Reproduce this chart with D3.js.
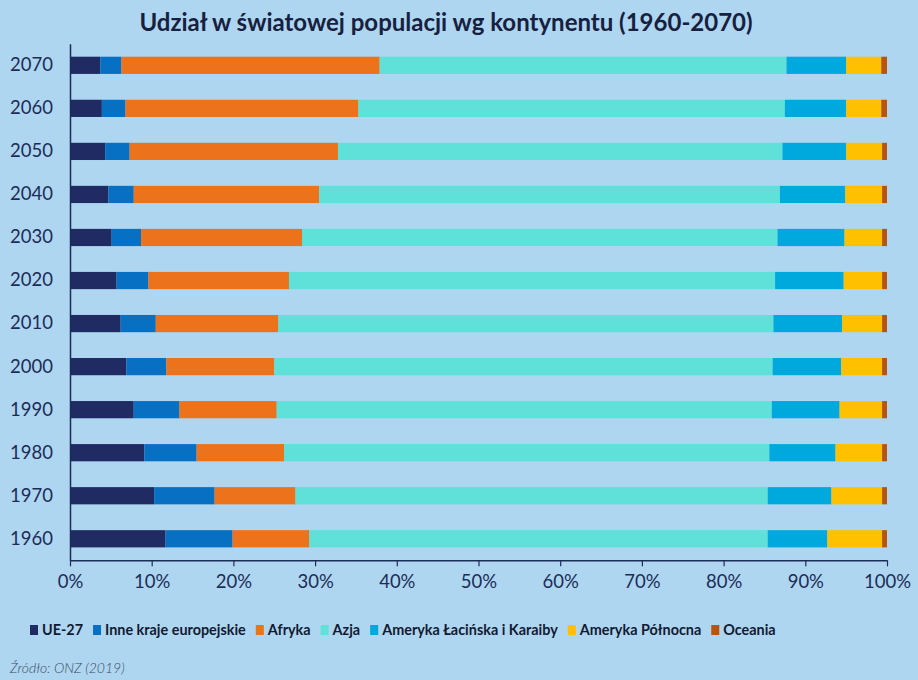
<!DOCTYPE html>
<html>
<head>
<meta charset="utf-8">
<script src="https://cdn.jsdelivr.net/npm/d3@7"></script>
<style>
  html, body { margin: 0; padding: 0; background: #aed6f0; }
  svg { display: block; }
</style>
</head>
<body>
<svg id="chart" width="918" height="680"></svg>
<script>
const years = ["1960","1970","1980","1990","2000","2010","2020","2030","2040","2050","2060","2070"];
const seriesNames = ["UE-27","Inne kraje europejskie","Afryka","Azja","Ameryka Łacińska i Karaiby","Ameryka Północna","Oceania"];
const ue27    = [11.7,10.3, 9.1, 7.8, 6.9, 6.2, 5.7, 5.1, 4.7, 4.3, 3.9, 3.7];
const inne    = [ 8.2, 7.4, 6.4, 5.6, 4.9, 4.3, 3.9, 3.6, 3.1, 3.0, 2.9, 2.6];
const afryka  = [ 9.4, 9.9,10.7,11.9,13.2,15.0,17.2,19.7,22.7,25.5,28.5,31.6];
const azja    = [56.1,57.8,59.4,60.6,61.0,60.6,59.5,58.2,56.4,54.4,52.2,49.8];
const latam   = [ 7.3, 7.8, 8.1, 8.3, 8.4, 8.4, 8.4, 8.2, 8.0, 7.8, 7.5, 7.3];
const namer   = [ 6.7, 6.2, 5.7, 5.2, 5.0, 4.9, 4.7, 4.6, 4.5, 4.4, 4.3, 4.3];
const oceania = [ 0.6, 0.6, 0.6, 0.6, 0.6, 0.6, 0.6, 0.6, 0.6, 0.6, 0.7, 0.7];
const xTicks = [0,10,20,30,40,50,60,70,80,90,100];
const colors = ["#1f2b62","#0870c2","#ec721c","#5fe0d9","#00a9dd","#ffc000","#b8540f"];
const titleText = "Udział w światowej populacji wg kontynentu (1960-2070)";
const sourceText = "Źródło: ONZ (2019)";

const seriesArrays = [ue27, inne, afryka, azja, latam, namer, oceania];
const rows = years.map((y, i) => {
  const r = { year: y };
  seriesNames.forEach((s, k) => r[s] = seriesArrays[k][i]);
  return r;
});

const svg = d3.select("#chart");
const textColor = "#1c2c58";
const font = "Lato, 'Open Sans', sans-serif";

const x = d3.scaleLinear().domain([0, 100]).range([70, 887]);
const y = d3.scaleBand().domain(years.slice().reverse()).range([43.8, 560.3])
  .paddingInner(0.6).paddingOuter(0.3);

const stacked = d3.stack().keys(seriesNames)(rows);
const color = d3.scaleOrdinal().domain(seriesNames).range(colors);

svg.append("g").selectAll("g").data(stacked).join("g")
  .attr("fill", d => color(d.key))
  .selectAll("rect").data(d => d).join("rect")
  .attr("x", d => x(d[0]))
  .attr("width", d => x(d[1]) - x(d[0]))
  .attr("y", d => y(d.data.year))
  .attr("height", y.bandwidth());

// y axis
const yAxis = svg.append("g").attr("transform", "translate(70,0)")
  .call(d3.axisLeft(y).tickSize(0).tickPadding(17));
yAxis.select(".domain").attr("stroke", textColor).attr("stroke-width", 1.5);
yAxis.selectAll("text").attr("font-family", font).attr("font-size", 18.5).attr("fill", textColor);

// x axis
const xAxis = svg.append("g").attr("transform", "translate(0,560.3)")
  .call(d3.axisBottom(x).tickValues(xTicks).tickFormat(d => d + "%").tickSizeOuter(0).tickSizeInner(6).tickPadding(9));
xAxis.select(".domain").attr("stroke", textColor).attr("stroke-width", 1.5);
xAxis.selectAll("line").attr("stroke", textColor).attr("stroke-width", 1.2);
xAxis.selectAll("text").attr("font-family", font).attr("font-size", 18.5).attr("fill", textColor);

// title
svg.append("text").attr("x", 446).attr("y", 31).attr("text-anchor", "middle")
  .attr("font-family", font).attr("font-weight", 700).attr("font-size", 24)
  .attr("fill", "#17213f").text(titleText);

// legend
const legend = svg.append("g");
let lx = 30;
seriesNames.forEach((s, i) => {
  const g = legend.append("g");
  g.append("rect").attr("x", lx).attr("y", 625).attr("width", 8).attr("height", 10).attr("fill", colors[i]);
  const t = g.append("text").attr("x", lx + 12).attr("y", 635)
    .attr("font-family", font).attr("font-weight", 700).attr("font-size", 14.4)
    .attr("fill", "#111a33").text(s);
  lx = lx + 12 + t.node().getComputedTextLength() + 10;
});

// source
svg.append("text").attr("x", 10).attr("y", 673)
  .attr("font-family", font).attr("font-style", "italic").attr("font-weight", 300)
  .attr("font-size", 14).attr("fill", "#3c4a66").text(sourceText);
</script>
</body>
</html>
